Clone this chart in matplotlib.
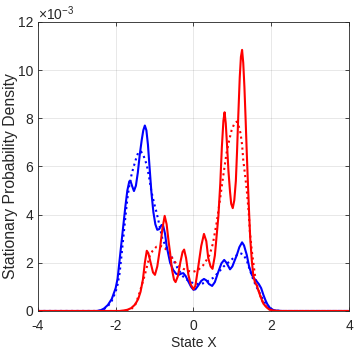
import matplotlib
matplotlib.use("Agg")
import matplotlib.pyplot as plt

plt.rcParams['font.family'] = ['Liberation Sans', 'DejaVu Sans']
plt.rcParams['mathtext.fontset'] = 'custom'
plt.rcParams['mathtext.rm'] = 'Liberation Sans'

# Blue solid
bx = [-4.0, -2.5, -2.4, -2.3, -2.2, -2.1, -2.0, -1.95, -1.9, -1.85, -1.8, -1.75, -1.7, -1.65, -1.62,
      -1.58, -1.53, -1.48, -1.43, -1.38, -1.33, -1.29, -1.25, -1.21, -1.17, -1.13, -1.08, -1.03,
      -0.98, -0.93, -0.88, -0.82, -0.78, -0.73, -0.69, -0.6, -0.52, -0.45, -0.38, -0.3, -0.26,
      -0.2, -0.13, -0.06, 0.0, 0.05, 0.12, 0.2, 0.27, 0.33, 0.4, 0.48, 0.55, 0.64, 0.72, 0.79,
      0.85, 0.94, 1.0, 1.06, 1.11, 1.18, 1.25, 1.3, 1.37, 1.43, 1.5, 1.57, 1.63, 1.68, 1.74,
      1.8, 1.85, 1.9, 1.97, 2.05, 2.15, 2.3, 4.0]
by = [0, 0, 0.02, 0.1, 0.25, 0.5, 0.95, 1.35, 2.1, 2.85, 3.6, 4.35, 5.0, 5.38, 5.40,
      5.2, 4.98, 5.2, 5.75, 6.5, 7.1, 7.5, 7.70, 7.5, 6.9, 6.0, 4.9, 4.1,
      3.6, 3.37, 3.4, 3.57, 3.55, 3.2, 2.7, 2.0, 1.70, 1.55, 1.5, 1.56, 1.57,
      1.45, 1.22, 1.0, 0.88, 0.9, 1.05, 1.25, 1.33, 1.27, 1.12, 1.04, 1.2, 1.63, 1.98, 2.12,
      2.0, 1.73, 1.85, 2.1, 2.3, 2.65, 2.85, 2.72, 2.33, 1.85, 1.50, 1.33, 1.22, 1.12, 0.95,
      0.66, 0.45, 0.28, 0.12, 0.04, 0.01, 0, 0]

# Blue dotted
bdx = [-4.0, -2.5, -2.4, -2.3, -2.2, -2.1, -2.0, -1.95, -1.9, -1.85, -1.8, -1.75, -1.7, -1.65,
       -1.6, -1.55, -1.48, -1.42, -1.35, -1.3, -1.25, -1.2, -1.14, -1.08, -1.0, -0.95, -0.88,
       -0.8, -0.7, -0.6, -0.52, -0.4, -0.26, -0.13, 0.0, 0.12, 0.25, 0.38, 0.51, 0.64, 0.77,
       0.9, 1.02, 1.12, 1.2, 1.28, 1.37, 1.45, 1.54, 1.62, 1.71, 1.8, 1.88, 1.97, 2.1, 2.3, 4.0]
bdy = [0, 0, 0.02, 0.08, 0.2, 0.42, 0.8, 1.1, 1.55, 2.3, 3.1, 3.9, 4.65, 5.2,
       5.6, 5.92, 6.3, 6.58, 6.62, 6.52, 6.3, 6.06, 5.55, 4.95, 4.4, 4.1, 3.6,
       3.0, 2.65, 2.35, 2.12, 1.75, 1.42, 1.25, 1.15, 1.12, 1.15, 1.25, 1.38, 1.6, 1.84,
       2.02, 2.19, 2.33, 2.40, 2.35, 2.1, 1.7, 1.29, 1.0, 0.73, 0.42, 0.25, 0.08, 0.02, 0, 0]

# Red solid
rx = [-4.0, -1.9, -1.8, -1.7, -1.6, -1.5, -1.42, -1.36, -1.3, -1.25, -1.2, -1.16, -1.1, -1.04,
      -0.99, -0.93, -0.86, -0.8, -0.74, -0.69, -0.64, -0.6, -0.55, -0.5, -0.46, -0.4, -0.34,
      -0.28, -0.24, -0.19, -0.13, -0.07, 0.0, 0.05, 0.12, 0.2, 0.27, 0.33, 0.38, 0.44, 0.49,
      0.55, 0.6, 0.64, 0.69, 0.73, 0.77, 0.8, 0.83, 0.87, 0.9, 0.94, 0.97, 1.01, 1.05, 1.09,
      1.12, 1.15, 1.19, 1.22, 1.25, 1.28, 1.31, 1.34, 1.37, 1.4, 1.43, 1.46, 1.5, 1.54, 1.58,
      1.63, 1.67, 1.71, 1.76, 1.8, 1.88, 1.95, 2.05, 2.2, 4.0]
ry = [0, 0, 0.02, 0.05, 0.12, 0.27, 0.5, 0.8, 1.3, 2.0, 2.5, 2.4, 2.0, 1.6,
      1.5, 1.85, 2.6, 3.4, 3.95, 3.6, 2.9, 2.4, 1.7, 1.3, 1.2, 1.45, 2.0,
      2.45, 2.55, 2.2, 1.5, 1.1, 0.9, 1.05, 1.8, 2.7, 3.2, 2.9, 2.2, 1.85, 1.75,
      2.3, 3.2, 3.92, 5.3, 6.8, 7.9, 8.25, 7.8, 6.7, 5.8, 4.95, 4.45, 4.27, 4.6, 5.4,
      6.6, 8.0, 9.7, 10.55, 10.84, 10.3, 9.3, 8.0, 6.6, 5.3, 4.1, 3.0, 2.1, 1.45, 1.2,
      1.05, 0.85, 0.66, 0.45, 0.3, 0.15, 0.06, 0.02, 0, 0]

# Red dotted
rdx = [-4.0, -1.8, -1.7, -1.6, -1.5, -1.42, -1.35, -1.25, -1.18, -1.12, -1.05, -0.95, -0.85,
       -0.78, -0.7, -0.6, -0.52, -0.4, -0.26, -0.13, 0.0, 0.12, 0.25, 0.35, 0.42, 0.5, 0.6,
       0.68, 0.73, 0.8, 0.85, 0.92, 0.98, 1.05, 1.11, 1.16, 1.21, 1.25, 1.28, 1.33, 1.37, 1.42,
       1.45, 1.5, 1.54, 1.58, 1.64, 1.71, 1.78, 1.84, 1.9, 2.0, 2.1, 4.0]
rdy = [0, 0, 0.03, 0.08, 0.25, 0.59, 0.95, 1.5, 1.95, 2.3, 2.5, 2.67, 2.7,
       2.67, 2.55, 2.35, 2.12, 1.9, 1.75, 1.66, 1.63, 1.7, 1.9, 2.15, 2.35, 2.8, 3.7,
       4.6, 5.2, 6.0, 6.55, 7.1, 7.5, 7.78, 7.86, 7.7, 7.38, 6.9, 6.27, 5.6, 5.02, 4.1,
       3.3, 2.5, 2.0, 1.5, 1.05, 0.66, 0.38, 0.25, 0.12, 0.03, 0, 0]

xticks = [-4, -2, 0, 2, 4]
yticks = [0, 2, 4, 6, 8, 10, 12]

fig = plt.figure(figsize=(3.54, 3.54), dpi=100)
ax = fig.add_axes([0.107, 0.1215, 0.879, 0.8165])

ax.plot(bdx, [v * 1e-3 for v in bdy], color='#0000FF', linestyle=':', linewidth=1.5)
ax.plot(rdx, [v * 1e-3 for v in rdy], color='#FF0000', linestyle=':', linewidth=1.5)
ax.plot(bx, [v * 1e-3 for v in by], color='#0000FF', linestyle='-', linewidth=1.5)
ax.plot(rx, [v * 1e-3 for v in ry], color='#FF0000', linestyle='-', linewidth=1.5)

ax.set_xlim(-4, 4)
ax.set_ylim(0, 12e-3)
ax.set_xticks(xticks)
ax.set_xticklabels([str(t) for t in xticks])
ax.set_yticks([t * 1e-3 for t in yticks])
ax.set_yticklabels([str(t) for t in yticks])

axc = '#262626'
for s in ax.spines.values():
    s.set_color(axc)
    s.set_linewidth(0.6)
ax.tick_params(direction='in', top=True, right=True, length=3, width=0.6,
               colors=axc, labelsize=10)
ax.tick_params(axis='x', pad=5.5)
ax.tick_params(axis='y', pad=3.5)
ax.grid(True, color='#262626', alpha=0.12, linewidth=0.6)
ax.set_axisbelow(True)

ax.set_xlabel('State X', fontsize=10, color=axc)
ax.xaxis.set_label_coords(0.5, -0.085)
ax.set_ylabel('Stationary Probability Density', fontsize=11.3, color=axc)
ax.yaxis.set_label_coords(-0.064, 0.467)
ax.text(0.0, 0.998, r'$\times$10$^{-3}$', transform=ax.transAxes, fontsize=10,
        color=axc, ha='left', va='bottom')

fig.savefig('out.png', dpi=100)
